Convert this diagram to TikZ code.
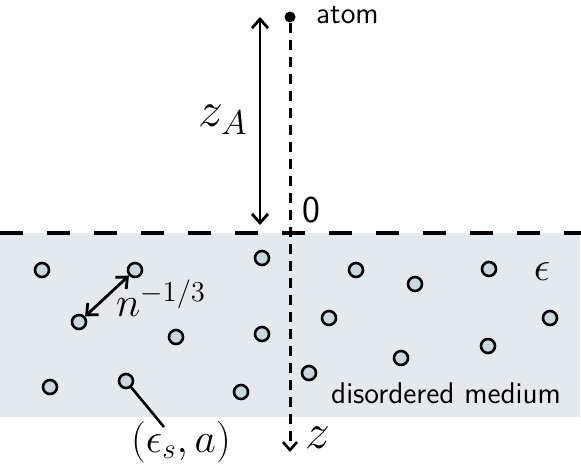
\documentclass[tikz,border=0pt]{standalone}
\usepackage{fontspec}
\usetikzlibrary{arrows.meta}
\definecolor{medium}{HTML}{E3E9ED}
\definecolor{dotfill}{HTML}{C8D8E0}
\begin{document}
\begin{tikzpicture}[x=0.5pt,y=-0.5pt,
  particle/.style={circle,draw,line width=1.3pt,fill=dotfill,minimum size=7pt,inner sep=0pt},
  atomdot/.style={circle,fill=black,minimum size=5.5pt,inner sep=0pt},
  surface/.style={line width=2.2pt,dash pattern=on 11.5pt off 12pt},
  axis/.style={line width=1.5pt,dash pattern=on 5pt off 3.5pt},
  dimarrow/.style={line width=1.4pt,{Straight Barb[length=4.5pt,width=8pt,line width=1.4pt]}-{Straight Barb[length=4.5pt,width=8pt,line width=1.4pt]}},
  big/.style={font=\fontsize{24}{28}\selectfont},
  mid/.style={font=\fontsize{21}{24}\selectfont},
  txt/.style={font=\sffamily\fontsize{15}{18}\selectfont}]
\useasboundingbox (0,0) rectangle (581,466);
\fill[medium] (0,233) rectangle (580,417);
\coordinate (sl) at (0,233);
\coordinate (sr) at (581,233);
\draw[surface] (sl) -- (sr);
% particles
\node[particle] (p1) at (42,270) {};
\node[particle] (p2) at (135,270) {};
\node[particle] (p3) at (79,322) {};
\node[particle] (p4) at (176,337) {};
\node[particle] (p5) at (262,258) {};
\node[particle] (p6) at (262,334) {};
\node[particle] (p7) at (50,387) {};
\node[particle] (p8) at (126,381) {};
\node[particle] (p9) at (241,392) {};
\node[particle] (p10) at (356,270) {};
\node[particle] (p11) at (415,284) {};
\node[particle] (p12) at (489,269) {};
\node[particle] (p13) at (329,318) {};
\node[particle] (p14) at (550,318) {};
\node[particle] (p15) at (488,346) {};
\node[particle] (p16) at (401,358) {};
\node[particle] (p17) at (309,373) {};
% atom and axis
\node[atomdot] (atom) at (290,17) {};
\node[txt,anchor=west] (atomlbl) at (309,15) {atom};
\coordinate (zend) at (290,452);
\draw[axis,-{Straight Barb[length=4pt,width=7pt,line width=1.3pt]}] (atom) -- (zend);
\node[big] (zlbl) at (318,438) {$z$};
\node[font=\sffamily\fontsize{19}{22}\selectfont] (zero) at (311,210) {0};
% z_A
\coordinate (zatop) at (260,17);
\coordinate (zabot) at (260,225);
\draw[dimarrow] (zatop) -- (zabot);
\node[big] (zA) at (223,120) {$z_A$};
% spacing
\draw[dimarrow] (p3) -- (p2);
\node[mid] (nlbl) at (161,298) {$n^{-1/3}$};
% particle label
\coordinate (lend) at (164,427);
\draw[line width=1.3pt] (p8) -- (lend);
\node[font=\fontsize{21}{24}\selectfont] (plbl) at (181,442) {$(\epsilon_s,a)$};
\node[mid] (epslbl) at (542,272) {$\epsilon$};
\node[txt] (medlbl) at (446,393) {disordered medium};
\end{tikzpicture}
\end{document}
